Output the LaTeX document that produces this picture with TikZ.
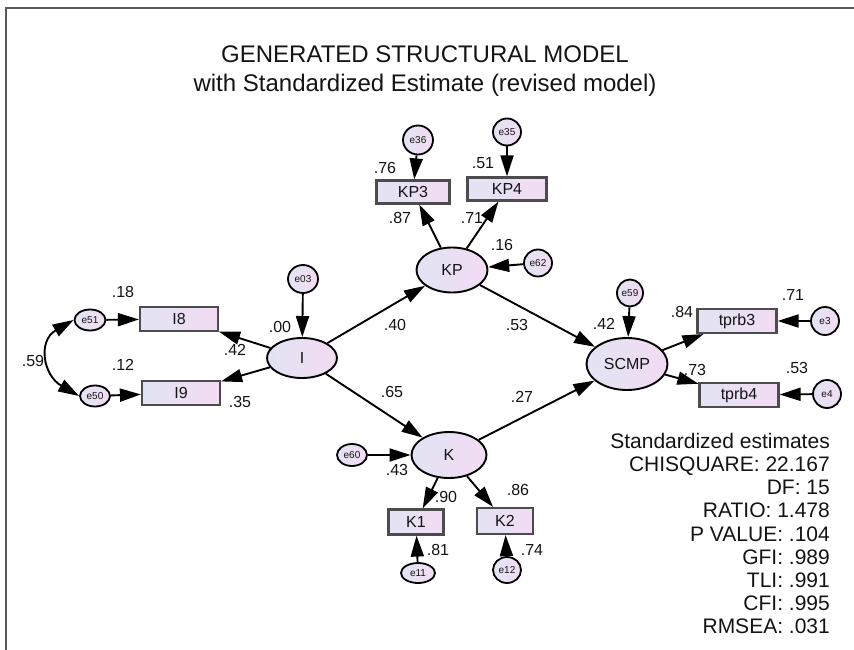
\documentclass[tikz,border=0pt]{standalone}
\usepackage{fontspec}
\setmainfont{Liberation Sans}
\usetikzlibrary{shapes.geometric,arrows.meta}
\definecolor{lavA}{HTML}{E2E3F3}
\definecolor{lavB}{HTML}{F3DCF3}
\definecolor{ink}{HTML}{141414}
\begin{document}
\begin{tikzpicture}[x=1pt,y=-1pt,
  lat/.style={ellipse, draw=black, line width=1.9pt, left color=lavA, right color=lavB, inner sep=0pt, font=\fontsize{16}{16}\selectfont, text=ink},
  obs/.style={rectangle, draw=black!70, line width=2.2pt, left color=lavA, right color=lavB, inner sep=0pt, minimum height=24pt, font=\fontsize{16}{16}\selectfont, text=ink},
  err/.style={ellipse, draw=black, line width=1.8pt, left color=lavA, right color=lavB, inner sep=0pt, font=\fontsize{10}{10}\selectfont, text=ink},
  est/.style={inner sep=0pt, font=\fontsize{16}{16}\selectfont, text=ink},
  stat/.style={inner sep=0pt, anchor=base east, font=\fontsize{21}{21}\selectfont, text=ink},
  ttl/.style={inner sep=0pt, anchor=base, font=\fontsize{24}{24}\selectfont, text=ink},
  pth/.style={line width=1.9pt, draw=black, -{Triangle[length=21pt,width=13pt]}},
  cov/.style={line width=1.9pt, draw=black, {Triangle[length=21pt,width=13pt]}-{Triangle[length=21pt,width=13pt]}}
]
\useasboundingbox (0,0) rectangle (854,650);
\fill[white] (0,0) rectangle (854,650);
% frame
\draw[black!65, line width=2.6pt] (6,650) -- (6,8) -- (854,8);

% title
\node[ttl] (t1) at (425,63) {GENERATED STRUCTURAL MODEL};
\node[ttl] (t2) at (425,92) {with Standardized Estimate (revised model)};

% latent variables
\node[lat, minimum width=70pt, minimum height=40pt] (I) at (302,358) {I};
\node[lat, minimum width=71pt, minimum height=45pt] (KP) at (452,270) {KP};
\node[lat, minimum width=75pt, minimum height=46pt] (K) at (449,455) {K};
\node[lat, minimum width=81pt, minimum height=52pt] (SCMP) at (627,364) {SCMP};

% observed variables
\node[obs, minimum width=78pt] (I8) at (179,319) {I8};
\node[obs, minimum width=78pt] (I9) at (181,393) {I9};
\node[obs, minimum width=73pt, minimum height=23pt] (KP3) at (413,192) {KP3};
\node[obs, minimum width=79pt, minimum height=23pt] (KP4) at (507,189) {KP4};
\node[obs, minimum width=79pt] (tprb3) at (737,321) {tprb3};
\node[obs, minimum width=79pt] (tprb4) at (739,395) {tprb4};
\node[obs, minimum width=55pt, minimum height=25pt] (K1) at (416,522) {K1};
\node[obs, minimum width=56pt, minimum height=26pt] (K2) at (505,521) {K2};

% errors
\node[err, minimum width=31pt, minimum height=21pt] (e51) at (90,320) {e51};
\node[err, minimum width=30pt, minimum height=21pt] (e50) at (95,396) {e50};
\node[err, minimum width=30pt, minimum height=28pt] (e03) at (303,279) {e03};
\node[err, minimum width=30pt, minimum height=29pt] (e36) at (418,140) {e36};
\node[err, minimum width=28pt, minimum height=27pt] (e35) at (507,132) {e35};
\node[err, minimum width=28pt, minimum height=27pt] (e62) at (538,263) {e62};
\node[err, minimum width=26pt, minimum height=27pt] (e59) at (630,293) {e59};
\node[err, minimum width=28pt, minimum height=28pt] (e3) at (825,321) {e3};
\node[err, minimum width=28pt, minimum height=28pt] (e4) at (827,394) {e4};
\node[err, minimum width=30pt, minimum height=22pt] (e60) at (352,455) {e60};
\node[err, minimum width=34pt, minimum height=20pt] (e11) at (418,573) {e11};
\node[err, minimum width=28pt, minimum height=26pt] (e12) at (507,570) {e12};

% paths
\draw[pth] (e51) -- (I8);
\draw[pth] (e50) -- (I9);
\draw[pth] (I) -- (I8);
\draw[pth] (I) -- (I9);
\draw[pth] (e03) -- (I);
\draw[pth] (I) -- (KP);
\draw[pth] (I) -- (K);
\draw[pth] (e36) -- (KP3);
\draw[pth] (e35) -- (KP4);
\draw[pth] (KP) -- (KP3);
\draw[pth] (KP) -- (KP4);
\draw[pth] (e62) -- (KP);
\draw[pth] (KP) -- (SCMP);
\draw[pth] (K) -- (SCMP);
\draw[pth] (e59) -- (SCMP);
\draw[pth] (SCMP) -- (tprb3);
\draw[pth] (SCMP) -- (tprb4);
\draw[pth] (e3) -- (tprb3);
\draw[pth] (e4) -- (tprb4);
\draw[pth] (e60) -- (K);
\draw[pth] (K) -- (K1);
\draw[pth] (K) -- (K2);
\draw[pth] (e11) -- (K1);
\draw[pth] (e12) -- (K2);
\draw[cov] (e51.west) to[out=210, in=150, looseness=1.4] (e50.west);

% estimates
\node[est] (l18) at (123,292) {.18};
\node[est] (l12) at (123,365) {.12};
\node[est] (l59) at (33,361) {.59};
\node[est] (l42a) at (235,350) {.42};
\node[est] (l35) at (240,402) {.35};
\node[est] (l00) at (280,327) {.00};
\node[est] (l76) at (385,168) {.76};
\node[est] (l51) at (483,163) {.51};
\node[est] (l87) at (400,218) {.87};
\node[est] (l71a) at (472,218) {.71};
\node[est] (l16) at (502,245) {.16};
\node[est] (l40) at (395,325) {.40};
\node[est] (l65) at (392,392) {.65};
\node[est] (l53a) at (517,325) {.53};
\node[est] (l27) at (522,397) {.27};
\node[est] (l42b) at (604,324) {.42};
\node[est] (l84) at (682,312) {.84};
\node[est] (l71b) at (793,295) {.71};
\node[est] (l73) at (695,370) {.73};
\node[est] (l53b) at (797,368) {.53};
\node[est] (l43) at (397,470) {.43};
\node[est] (l90) at (446,497) {.90};
\node[est] (l86) at (518,490) {.86};
\node[est] (l81) at (438,550) {.81};
\node[est] (l74) at (532,550) {.74};

% fit statistics
\node[stat] (s1) at (830,448) {Standardized estimates};
\node[stat] (s2) at (830,471) {CHISQUARE: 22.167};
\node[stat] (s3) at (830,494) {DF: 15};
\node[stat] (s4) at (830,517) {RATIO: 1.478};
\node[stat] (s5) at (830,541) {P VALUE: .104};
\node[stat] (s6) at (830,564) {GFI: .989};
\node[stat] (s7) at (830,587) {TLI: .991};
\node[stat] (s8) at (830,610) {CFI: .995};
\node[stat] (s9) at (830,633) {RMSEA: .031};
\end{tikzpicture}
\end{document}
